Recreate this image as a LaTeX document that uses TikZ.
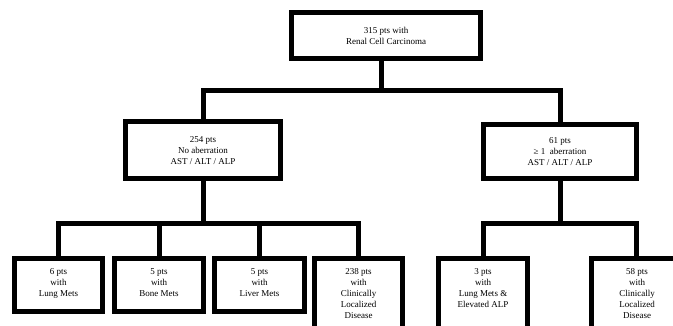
\documentclass[tikz,border=0pt]{standalone}
\usepackage{fontspec}
\setmainfont{Liberation Serif}
\begin{document}
\begin{tikzpicture}[x=1pt,y=1pt,line join=miter,
  box/.style={draw, line width=5pt, fill=white, inner sep=0pt},
  conn/.style={draw, line width=5pt, line join=miter},
  txt/.style={font=\fontsize{9}{11}\selectfont, align=center, inner sep=0pt}]
\useasboundingbox (0,0) rectangle (673,-326);
\clip (0,0) rectangle (673,-326);

% upper boxes
\node[box, txt, minimum width=189pt, minimum height=46pt] (top) at (386,-35.5) {315 pts with\\Renal Cell Carcinoma};
\node[box, txt, minimum width=155pt, minimum height=56.5pt] (n254) at (203,-150.25) {254 pts\\No aberration\\AST / ALT / ALP};
\node[box, txt, minimum width=153pt, minimum height=53.5pt] (n61) at (560,-151.75) {61 pts\\≥ 1\ \ aberration\\AST / ALT / ALP};

% lower boxes
\node[box, minimum width=88pt, minimum height=53pt] (b1) at (58.5,-285) {};
\node[box, minimum width=89pt, minimum height=53pt] (b2) at (159,-285) {};
\node[box, minimum width=90pt, minimum height=53pt] (b3) at (259.5,-285) {};
\node[box, minimum width=88pt, minimum height=100pt] (b4) at (358.5,-308.5) {};
\node[box, minimum width=89pt, minimum height=100pt] (b5) at (483,-308.5) {};
\node[box, minimum width=89pt, minimum height=100pt] (b6) at (636,-308.5) {};

\node[txt, anchor=north] (t1) at (58.5,-268) {6 pts\\with\\Lung Mets};
\node[txt, anchor=north] (t2) at (159,-268) {5 pts\\with\\Bone Mets};
\node[txt, anchor=north] (t3) at (259.5,-268) {5 pts\\with\\Liver Mets};
\node[txt, anchor=north] (t4) at (358.5,-268) {238 pts\\with\\Clinically\\Localized\\Disease};
\node[txt, anchor=north] (t5) at (483,-268) {3 pts\\with\\Lung Mets \&\\Elevated ALP};
\node[txt, anchor=north] (t6) at (637,-268) {58 pts\\with\\Clinically\\Localized\\Disease};

% junctions
\coordinate (j1) at (381.5,-91);
\coordinate (j2) at (203,-224);
\coordinate (j3) at (560,-224);

% connectors
\draw[conn] (j1 |- top.south) -- (j1);
\draw[conn] (n254.north) |- (j1) -| (n61.north);
\draw[conn] (n254.south) -- (j2);
\draw[conn] (b1.north) |- (j2) -| (b4.north);
\draw[conn] (b2.north) -- (b2.north |- j2);
\draw[conn] (b3.north) -- (b3.north |- j2);
\draw[conn] (n61.south) -- (j3);
\draw[conn] (b5.north) |- (j3) -| (b6.north);
\end{tikzpicture}
\end{document}
